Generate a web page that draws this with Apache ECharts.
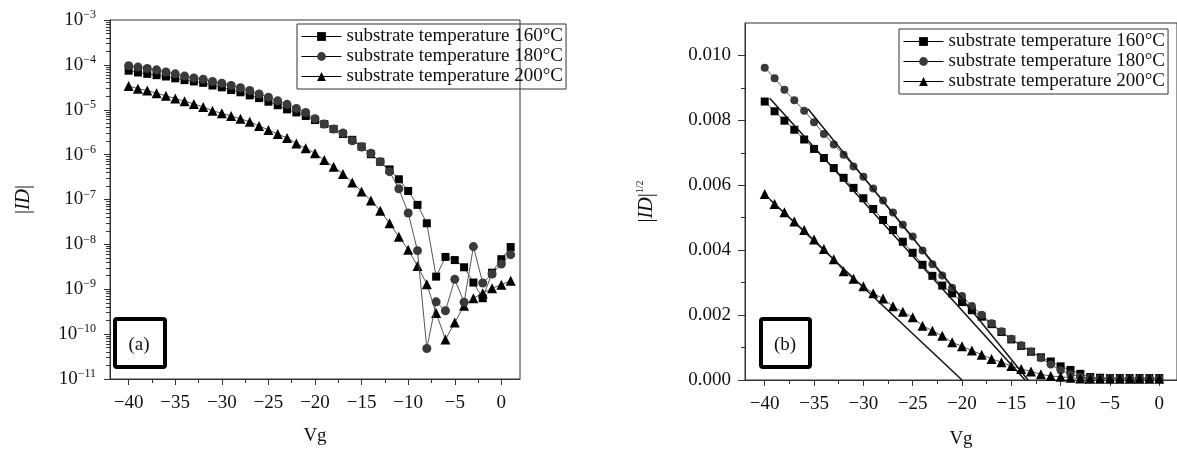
<!DOCTYPE html>
<html>
<head>
<meta charset="utf-8">
<script src="https://cdn.jsdelivr.net/npm/echarts@6/dist/echarts.min.js"></script>
<style>
  html, body { margin: 0; padding: 0; background: #fff; }
  #chart-container { width: 1177px; height: 454px; }
</style>
</head>
<body>
<div id="chart-container"></div>
<script>
// ---- data: (a) |ID| vs Vg, log scale ----
var vgA = [-40, -39, -38, -37, -36, -35, -34, -33, -32, -31, -30, -29, -28, -27,
  -26, -25, -24, -23, -22, -21, -20, -19, -18, -17, -16, -15, -14, -13,
  -12, -11, -10, -9, -8, -7, -6, -5, -4, -3, -2, -1, 0, 1];

var idA160 = [7.41e-5, 6.76e-5, 6.31e-5, 5.89e-5, 5.50e-5, 5.01e-5, 4.57e-5, 4.27e-5,
  3.98e-5, 3.47e-5, 3.16e-5, 2.75e-5, 2.45e-5, 2.09e-5, 1.82e-5, 1.51e-5, 1.26e-5,
  1.02e-5, 8.71e-6, 7.24e-6, 5.89e-6, 4.79e-6, 3.72e-6, 2.88e-6, 2.14e-6, 1.51e-6,
  1.02e-6, 6.92e-7, 4.68e-7, 2.82e-7, 1.55e-7, 7.59e-8, 2.95e-8, 1.91e-9, 5.25e-9,
  4.47e-9, 3.09e-9, 1.41e-9, 6.31e-10, 2.34e-9, 4.68e-9, 8.71e-9];

var idA180 = [9.55e-5, 8.91e-5, 8.32e-5, 7.76e-5, 6.92e-5, 6.31e-5, 5.62e-5, 5.13e-5,
  4.79e-5, 4.27e-5, 3.89e-5, 3.47e-5, 3.09e-5, 2.69e-5, 2.24e-5, 1.91e-5, 1.58e-5,
  1.32e-5, 1.07e-5, 8.71e-6, 6.31e-6, 4.79e-6, 3.72e-6, 3.02e-6, 2.04e-6, 1.48e-6,
  1.07e-6, 6.92e-7, 4.17e-7, 1.74e-7, 5.01e-8, 7.24e-9, 4.79e-11, 5.25e-10, 3.31e-10,
  1.66e-9, 5.13e-10, 8.91e-9, 1.38e-9, 2.19e-9, 3.63e-9, 5.89e-9];

var idA200 = [3.39e-5, 2.95e-5, 2.69e-5, 2.34e-5, 2.04e-5, 1.78e-5, 1.55e-5, 1.35e-5,
  1.15e-5, 9.55e-6, 8.32e-6, 7.24e-6, 6.31e-6, 5.37e-6, 4.37e-6, 3.55e-6, 2.88e-6,
  2.34e-6, 1.78e-6, 1.38e-6, 1.07e-6, 7.59e-7, 5.37e-7, 3.72e-7, 2.40e-7, 1.51e-7,
  9.55e-8, 5.62e-8, 2.95e-8, 1.48e-8, 7.59e-9, 3.31e-9, 1.29e-9, 2.95e-10, 7.59e-11,
  1.82e-10, 4.27e-10, 6.31e-10, 8.13e-10, 1.05e-9, 1.26e-9, 1.55e-9];

// ---- data: (b) |ID|^1/2 vs Vg ----
var vgB = [-40, -39, -38, -37, -36, -35, -34, -33, -32, -31, -30, -29, -28, -27,
  -26, -25, -24, -23, -22, -21, -20, -19, -18, -17, -16, -15, -14, -13,
  -12, -11, -10, -9, -8, -7, -6, -5, -4, -3, -2, -1, 0];

var sqB160 = [0.00858, 0.00828, 0.00799, 0.00771, 0.00741, 0.00712, 0.00684, 0.00653,
  0.00623, 0.00592, 0.00560, 0.00527, 0.00493, 0.00462, 0.00426, 0.00392, 0.00355,
  0.00321, 0.00291, 0.00267, 0.00240, 0.00215, 0.00195, 0.00172, 0.00148, 0.00125,
  0.00105, 0.00087, 0.00070, 0.00057, 0.00042, 0.00031, 0.00019, 0.00009, 0.00007,
  0.00006, 0.00006, 0.00006, 0.00006, 0.00006, 0.00006];

var sqB180 = [0.00962, 0.00930, 0.00894, 0.00862, 0.00830, 0.00794, 0.00758, 0.00726,
  0.00694, 0.00658, 0.00626, 0.00590, 0.00553, 0.00516, 0.00478, 0.00442, 0.00399,
  0.00357, 0.00322, 0.00284, 0.00259, 0.00228, 0.00201, 0.00175, 0.00150, 0.00127,
  0.00107, 0.00088, 0.00068, 0.00048, 0.00030, 0.00018, 0.00010, 0.00006, 0.00005,
  0.00006, 0.00005, 0.00005, 0.00005, 0.00005, 0.00005];

var sqB200 = [0.00573, 0.00542, 0.00517, 0.00488, 0.00462, 0.00433, 0.00404, 0.00372,
  0.00335, 0.00312, 0.00289, 0.00267, 0.00251, 0.00227, 0.00210, 0.00193, 0.00167,
  0.00152, 0.00136, 0.00116, 0.00104, 0.00091, 0.00078, 0.00065, 0.00055, 0.00043,
  0.00034, 0.00026, 0.00018, 0.00012, 0.00010, 0.00007, 0.00005, 0.00004, 0.00004,
  0.00004, 0.00004, 0.00004, 0.00004, 0.00004, 0.00004];

// linear fits drawn in (b): [Vg, value] end points
var fitB160 = [[-39.5, 0.00868], [-13.6, 0]];
var fitB180 = [[-35.6, 0.00835], [-13.3, 0]];
var fitB200 = [[-39.5, 0.00557], [-20.0, 0]];

var names = ['substrate temperature 160°C', 'substrate temperature 180°C', 'substrate temperature 200°C'];

// ---- ticks ----
var xTicksA = [-40, -35, -30, -25, -20, -15, -10, -5, 0];
var xMinorA = [-37.5, -32.5, -27.5, -22.5, -17.5, -12.5, -7.5, -2.5];
var yTicksA = [1e-11, 1e-10, 1e-9, 1e-8, 1e-7, 1e-6, 1e-5, 1e-4, 1e-3];
var yTicksB = [0, 0.002, 0.004, 0.006, 0.008, 0.010];
var yMinorB = [0.001, 0.003, 0.005, 0.007, 0.009];

var yMinorA = [];
for (var e = -11; e < -3; e++) {
  for (var m = 2; m < 10; m++) {
    yMinorA.push(parseFloat((m * Math.pow(10, e)).toPrecision(3)));
  }
}

var FONT = 'Liberation Serif';
var AX = '#333';

function pairs(xs, ys) {
  return xs.map(function (x, i) { return [x, ys[i]]; });
}
function minus(v) {
  return String(v).replace('-', '\u2212');
}

var chart = echarts.init(document.getElementById('chart-container'), null, { renderer: 'canvas' });

function mainX(grid, min, max, gap) {
  return {
    gridIndex: grid, type: 'value', min: min, max: max, position: 'bottom',
    axisLine: { onZero: false, lineStyle: { color: AX, width: 1 } },
    axisTick: { customValues: xTicksA, length: 6, lineStyle: { color: AX } },
    axisLabel: { customValues: xTicksA, formatter: minus, fontFamily: FONT, fontSize: 19, color: '#111', margin: 15 },
    splitLine: { show: false },
    name: 'Vg', nameLocation: 'middle', nameGap: gap,
    nameTextStyle: { fontFamily: FONT, fontSize: 19, color: '#111' }
  };
}
function minorX(grid, min, max) {
  return {
    gridIndex: grid, type: 'value', min: min, max: max, position: 'bottom',
    axisLine: { show: false, onZero: false },
    axisTick: { customValues: xMinorA, length: 4, lineStyle: { color: AX } },
    axisLabel: { show: false },
    splitLine: { show: false }
  };
}

var legendBase = {
  orient: 'vertical', data: names,
  borderColor: AX, borderWidth: 1, padding: [3, 3, 3, 4],
  itemGap: 1, itemWidth: 40, itemHeight: 11,
  lineStyle: { color: '#000', width: 1 },
  textStyle: { fontFamily: FONT, fontSize: 19, color: '#111' }
};

var option = {
  animation: false,
  backgroundColor: '#fff',
  grid: [
    { left: 110, top: 20, width: 410, height: 359, show: true, borderColor: AX, borderWidth: 1 },
    { left: 745, top: 23, width: 439, height: 358, show: true, borderColor: AX, borderWidth: 1 }
  ],
  xAxis: [
    mainX(0, -42, 2, 48),
    minorX(0, -42, 2),
    mainX(1, -42, 1.8, 50),
    minorX(1, -42, 1.8)
  ],
  yAxis: [
    {
      gridIndex: 0, type: 'log', logBase: 10, min: 1e-11, max: 1e-3, position: 'left',
      axisLine: { onZero: false, lineStyle: { color: AX, width: 1 } },
      axisTick: { customValues: yTicksA, length: 6, lineStyle: { color: AX } },
      axisLabel: {
        customValues: yTicksA, margin: 14, color: '#111',
        formatter: function (v) {
          var p = Math.round(Math.log(v) / Math.LN10);
          return '{b|10}{s|\u2212' + (-p) + '}';
        },
        rich: {
          b: { fontFamily: FONT, fontSize: 19, lineHeight: 22, color: '#111' },
          s: { fontFamily: FONT, fontSize: 12, lineHeight: 22, verticalAlign: 'top', color: '#111' }
        }
      },
      splitLine: { show: false },
      name: '{v||}{i|ID}{v||}', nameLocation: 'middle', nameGap: 76, nameRotate: 90,
      nameTextStyle: {
        rich: {
          v: { fontFamily: FONT, fontSize: 20, color: '#111' },
          i: { fontFamily: FONT, fontSize: 20, fontStyle: 'italic', color: '#111' }
        }
      }
    },
    {
      gridIndex: 0, type: 'log', logBase: 10, min: 1e-11, max: 1e-3, position: 'left',
      axisLine: { show: false, onZero: false },
      axisTick: { customValues: yMinorA, length: 4, lineStyle: { color: AX } },
      axisLabel: { show: false },
      splitLine: { show: false }
    },
    {
      gridIndex: 1, type: 'value', min: 0, max: 0.011, position: 'left',
      axisLine: { onZero: false, lineStyle: { color: AX, width: 1 } },
      axisTick: { customValues: yTicksB, length: 7, lineStyle: { color: AX } },
      axisLabel: {
        customValues: yTicksB, margin: 14, fontFamily: FONT, fontSize: 19, color: '#111',
        formatter: function (v) { return v.toFixed(3); }
      },
      splitLine: { show: false },
      name: '{v||}{i|ID}{v||}{s|1/2}', nameLocation: 'middle', nameGap: 86, nameRotate: 90,
      nameTextStyle: {
        rich: {
          v: { fontFamily: FONT, fontSize: 20, lineHeight: 24, color: '#111' },
          i: { fontFamily: FONT, fontSize: 20, lineHeight: 24, fontStyle: 'italic', color: '#111' },
          s: { fontFamily: FONT, fontSize: 10, lineHeight: 24, verticalAlign: 'top', color: '#111' }
        }
      }
    },
    {
      gridIndex: 1, type: 'value', min: 0, max: 0.011, position: 'left',
      axisLine: { show: false, onZero: false },
      axisTick: { customValues: yMinorB, length: 4, lineStyle: { color: AX } },
      axisLabel: { show: false },
      splitLine: { show: false }
    }
  ],
  legend: [
    Object.assign({ left: 297, top: 24 }, legendBase),
    Object.assign({ left: 899, top: 29 }, legendBase)
  ],
  graphic: [
    { type: 'rect', shape: { x: 115, y: 319, width: 50, height: 48, r: 2 }, style: { fill: 'none', stroke: '#000', lineWidth: 4 } },
    { type: 'text', x: 139, y: 345, style: { text: '(a)', font: '19px "Liberation Serif"', fill: '#111', align: 'center', verticalAlign: 'middle' } },
    { type: 'rect', shape: { x: 761, y: 319, width: 49, height: 48, r: 2 }, style: { fill: 'none', stroke: '#000', lineWidth: 4 } },
    { type: 'text', x: 785, y: 345, style: { text: '(b)', font: '19px "Liberation Serif"', fill: '#111', align: 'center', verticalAlign: 'middle' } }
  ],
  series: [
    {
      name: names[0], type: 'line', xAxisIndex: 0, yAxisIndex: 0, data: pairs(vgA, idA160),
      symbol: 'rect', symbolSize: 8, itemStyle: { color: '#000' }, lineStyle: { color: '#555', width: 1 }, z: 3
    },
    {
      name: names[1], type: 'line', xAxisIndex: 0, yAxisIndex: 0, data: pairs(vgA, idA180),
      symbol: 'circle', symbolSize: 9, itemStyle: { color: '#3a3a3a' }, lineStyle: { color: '#555', width: 1 }, z: 4
    },
    {
      name: names[2], type: 'line', xAxisIndex: 0, yAxisIndex: 0, data: pairs(vgA, idA200),
      symbol: 'triangle', symbolSize: 10, itemStyle: { color: '#000' }, lineStyle: { color: '#555', width: 1 }, z: 3
    },
    {
      name: names[0], type: 'line', xAxisIndex: 2, yAxisIndex: 2, data: pairs(vgB, sqB160),
      symbol: 'rect', symbolSize: 8, itemStyle: { color: '#000' }, lineStyle: { color: '#555', width: 1 }, z: 3
    },
    {
      name: names[1], type: 'line', xAxisIndex: 2, yAxisIndex: 2, data: pairs(vgB, sqB180),
      symbol: 'circle', symbolSize: 8, itemStyle: { color: '#3a3a3a' }, lineStyle: { color: '#555', width: 1 }, z: 3
    },
    {
      name: names[2], type: 'line', xAxisIndex: 2, yAxisIndex: 2, data: pairs(vgB, sqB200),
      symbol: 'triangle', symbolSize: 10, itemStyle: { color: '#000' }, lineStyle: { color: '#555', width: 1 }, z: 3
    },
    { name: 'fit160', type: 'line', xAxisIndex: 2, yAxisIndex: 2, data: fitB160, symbol: 'none', lineStyle: { color: '#111', width: 1.5 }, z: 5 },
    { name: 'fit180', type: 'line', xAxisIndex: 2, yAxisIndex: 2, data: fitB180, symbol: 'none', lineStyle: { color: '#111', width: 1.5 }, z: 5 },
    { name: 'fit200', type: 'line', xAxisIndex: 2, yAxisIndex: 2, data: fitB200, symbol: 'none', lineStyle: { color: '#111', width: 1.5 }, z: 5 }
  ]
};

chart.setOption(option);
window.addEventListener('resize', chart.resize);
</script>
</body>
</html>
